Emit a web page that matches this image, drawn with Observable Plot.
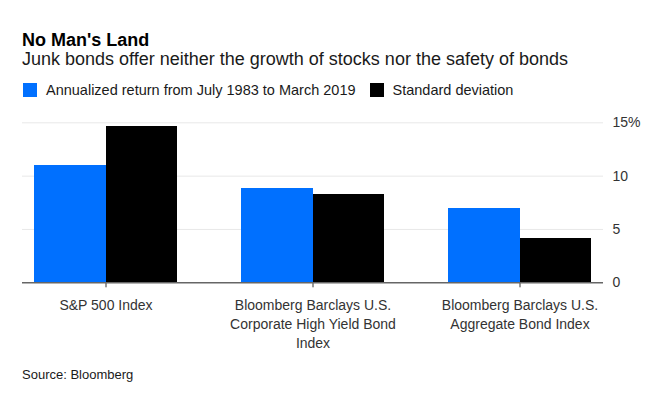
<!DOCTYPE html>
<html>
<head>
<meta charset="utf-8">
<script src="https://cdn.jsdelivr.net/npm/d3@7"></script>
<script src="https://cdn.jsdelivr.net/npm/@observablehq/plot@0.6"></script>
<style>
  html, body { margin: 0; padding: 0; background: #fff; }
  body { width: 662px; height: 397px; position: relative; overflow: hidden; font-family: "Liberation Sans", Arial, Helvetica, sans-serif; }
  #title { position: absolute; left: 22px; top: 30px; font-size: 18px; font-weight: bold; line-height: 20px; color: #000; }
  #subtitle { position: absolute; left: 22px; top: 48px; font-size: 18px; line-height: 22px; color: #1a1a1a; }
  #legend { position: absolute; left: 23px; top: 80px; height: 20px; display: flex; align-items: center; font-size: 14.5px; color: #1a1a1a; }
  #legend .sw { width: 14px; height: 14px; margin-right: 9px; }
  #legend .item { display: flex; align-items: center; margin-right: 14px; }
  #chart { position: absolute; left: 0; top: 100px; }
  #source { position: absolute; left: 22px; top: 367px; font-size: 13px; line-height: 16px; color: #1a1a1a; }
</style>
</head>
<body>
<div id="title">No Man's Land</div>
<div id="subtitle">Junk bonds offer neither the growth of stocks nor the safety of bonds</div>
<div id="legend"></div>
<div id="chart"></div>
<div id="source">Source: Bloomberg</div>
<script>
const categories = [
  "S&P 500 Index",
  "Bloomberg Barclays U.S. Corporate High Yield Bond Index",
  "Bloomberg Barclays U.S. Aggregate Bond Index"
];
const tickLabels = [
  "S&P 500 Index",
  "Bloomberg Barclays U.S.\nCorporate High Yield Bond\nIndex",
  "Bloomberg Barclays U.S.\nAggregate Bond Index"
];
const seriesNames = ["Annualized return from July 1983 to March 2019", "Standard deviation"];
const returns = [11.0, 8.8, 7.0];
const stdDev = [14.7, 8.25, 4.2];
const yTicks = [0, 5, 10, 15];
const yTickLabels = ["0", "5", "10", "15%"];

const colors = ["#0070ff", "#000000"];

// legend
const legend = document.getElementById("legend");
seriesNames.forEach((name, i) => {
  const item = document.createElement("div");
  item.className = "item";
  const sw = document.createElement("div");
  sw.className = "sw";
  sw.style.background = colors[i];
  const label = document.createElement("span");
  label.textContent = name;
  item.appendChild(sw);
  item.appendChild(label);
  legend.appendChild(item);
});

const retData = categories.map((c, i) => ({cat: c, value: returns[i]}));
const sdData = categories.map((c, i) => ({cat: c, value: stdDev[i]}));

const width = 662, marginLeft = 22, marginRight = 59;
const paddingInner = 0.3077, paddingOuter = 0.0514;
const plotW = width - marginLeft - marginRight;
const step = plotW / (categories.length - paddingInner + 2 * paddingOuter);
const half = step * (1 - paddingInner) / 2;

const chart = Plot.plot({
  width,
  height: 255,
  marginLeft,
  marginRight,
  marginTop: 22.3,
  marginBottom: 72.7,
  style: {fontFamily: '"Liberation Sans", Arial, sans-serif', fontSize: "14px", color: "#333", background: "#fff"},
  x: {domain: categories, paddingInner, paddingOuter, tickSize: 5, tickFormat: () => "", label: null},
  y: {domain: [0, 15], axis: "right", ticks: yTicks, tickSize: 0, tickPadding: 9,
      tickFormat: d => yTickLabels[yTicks.indexOf(d)], label: null},
  marks: [
    Plot.ruleY(yTicks.filter(d => d > 0), {stroke: "#e8e8e8", strokeWidth: 1}),
    Plot.barY(retData, {x: "cat", y: "value", fill: colors[0], insetRight: half - 1, shapeRendering: "crispEdges"}),
    Plot.barY(sdData, {x: "cat", y: "value", fill: colors[1], insetLeft: half, shapeRendering: "crispEdges"}),
    Plot.ruleY([0], {stroke: "#666", strokeWidth: 1.5}),
    Plot.text(categories, {x: d => d, frameAnchor: "bottom", text: (d, i) => tickLabels[i],
      lineAnchor: "top", dy: 13, lineHeight: 1.38, fontSize: 14, fill: "#333"})
  ]
});
document.getElementById("chart").appendChild(chart);
</script>
</body>
</html>
